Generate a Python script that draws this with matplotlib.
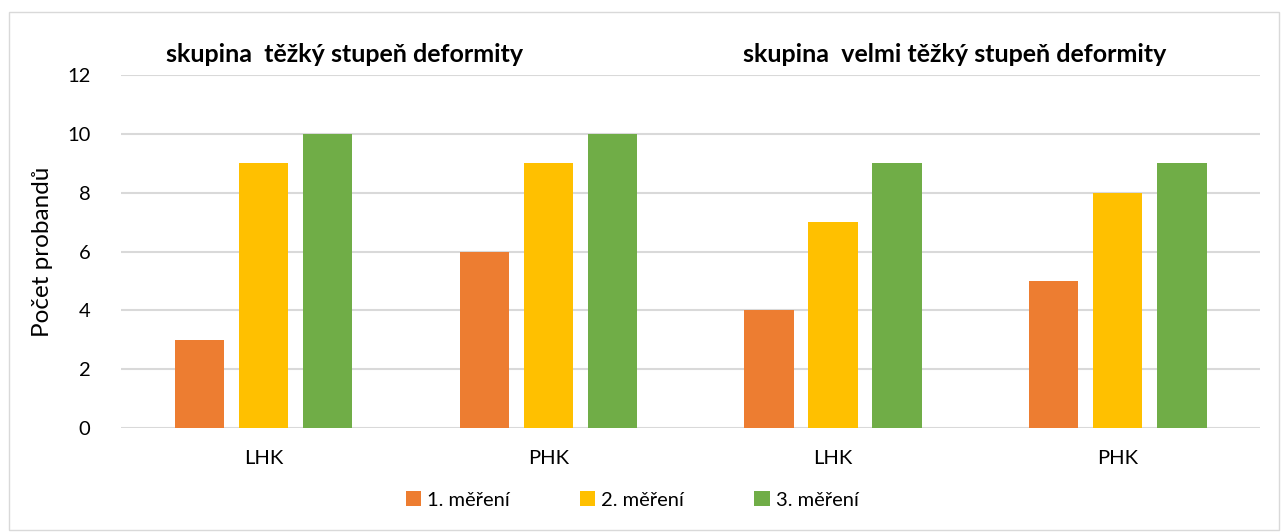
import matplotlib.pyplot as plt
from matplotlib.patches import Rectangle
import numpy as np

plt.rcParams['font.family'] = ['Lato', 'DejaVu Sans']

categories = ['LHK', 'PHK', 'LHK', 'PHK']
series_names = ['1. měření', '2. měření', '3. měření']
mereni1 = [3, 6, 4, 5]
mereni2 = [9, 9, 7, 8]
mereni3 = [10, 10, 9, 9]
colors = ['#ED7D31', '#FFC000', '#70AD47']
titles = ['skupina  těžký stupeň deformity', 'skupina  velmi těžký stupeň deformity']

fig = plt.figure(figsize=(12.82, 5.32), dpi=100)
ax = fig.add_axes([0.0944, 0.1955, 0.8886, 0.6635])

x = np.arange(len(categories))
w = 0.173
step = 0.225
for i, (vals, name) in enumerate(zip([mereni1, mereni2, mereni3], series_names)):
    ax.bar(x + (i - 1) * step, vals, w, color=colors[i], label=name, zorder=3)

ax.set_xlim(-0.5, 3.5)
ax.set_ylim(0, 12)
ax.set_yticks(range(0, 13, 2))
ax.set_xticks(x)
ax.set_xticklabels(categories)
ax.tick_params(axis='both', length=0, labelsize=14.5, colors='#000000')
ax.tick_params(axis='x', pad=16)
ax.tick_params(axis='y', pad=22)
ax.grid(axis='y', color='#D9D9D9', linewidth=1.5, zorder=0)
for s in ax.spines.values():
    s.set_visible(False)
ax.set_ylabel('Počet probandů', fontsize=17.5, labelpad=10)

# group titles
fig.text(345 / 1282, 1 - 54 / 532, titles[0], ha='center', va='center',
         fontsize=18, fontweight='bold')
fig.text(955 / 1282, 1 - 54 / 532, titles[1], ha='center', va='center',
         fontsize=18, fontweight='bold')

leg = ax.legend(loc='center', ncol=3, frameon=False,
                fontsize=14.5, handlelength=0.75, handleheight=0.75, columnspacing=3.5,
                handletextpad=0.3)
leg.set_bbox_to_anchor((632 / 1282, 1 - 500 / 532), transform=fig.transFigure)

# outer chart border
fig.patches.append(Rectangle((9 / 1282, 2 / 532), 1270 / 1282, 518 / 532,
                             transform=fig.transFigure, fill=False,
                             edgecolor='#D9D9D9', linewidth=1))

fig.savefig('out.png', dpi=100)
